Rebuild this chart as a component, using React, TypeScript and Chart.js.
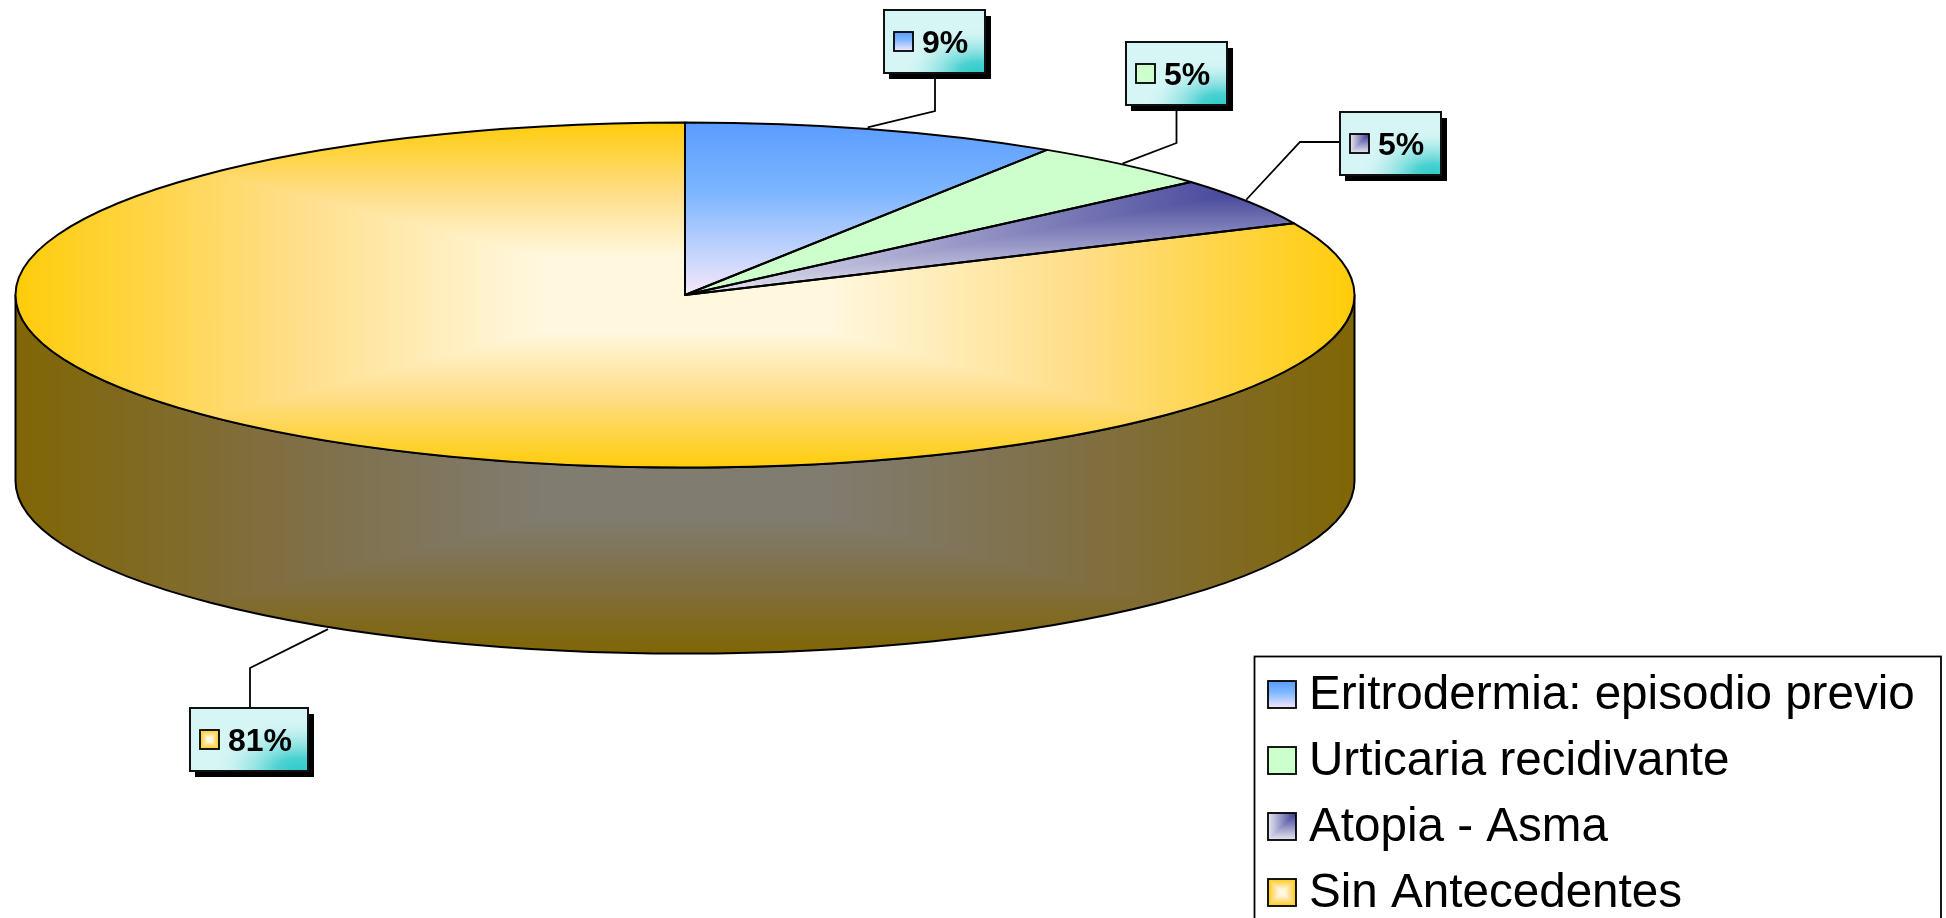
import React, { useEffect, useRef } from "react";
import { Chart, registerables } from "chart.js";

Chart.register(...registerables);

const categories = ["Eritrodermia: episodio previo", "Urticaria recidivante", "Atopia - Asma", "Sin Antecedentes"];
const counts = [2, 1, 1, 18];
const percentLabels = ["9%", "5%", "5%", "81%"];

const W = 1946, H = 918;
const CX = 685, CY = 295, RX = 669.5, RY = 172.5, DEPTH = 186;
const FONT = '"Liberation Sans", Arial, sans-serif';

type RGB = [number, number, number];
const lerp = (a: RGB, b: RGB, t: number): RGB => [a[0] + (b[0] - a[0]) * t, a[1] + (b[1] - a[1]) * t, a[2] + (b[2] - a[2]) * t];

const goldAt = (u: number, v: number): RGB => {
  const t = Math.max(Math.abs(u - 0.5), Math.abs(v - 0.5)) * 2;
  if (t < 0.22) return [255, 247, 222];
  if (t < 0.6) return lerp([255, 247, 222], [255, 221, 133], (t - 0.22) / 0.38);
  return lerp([255, 221, 133], [255, 204, 10], (t - 0.6) / 0.4);
};

const shaders: Record<string, (u: number, v: number) => RGB> = {
  blue: (_u, v) =>
    v < 0.41 ? lerp([90, 156, 255], [125, 182, 255], v / 0.41) : lerp([125, 182, 255], [245, 232, 250], (v - 0.41) / 0.59),
  green: () => [204, 255, 204],
  purple: (u, v) => {
    const d = Math.max(1 - u, v);
    return lerp([68, 68, 154], [232, 232, 242], Math.min(1, Math.max(0, (d - 0.08) / 0.92)));
  },
  yellow: goldAt,
  wall: (u, v) => {
    const c = goldAt(u, v);
    return [c[0] / 2, c[1] / 2, c[2] / 2];
  },
};
const sliceShaders = ["blue", "green", "purple", "yellow"];

function shade(name: string, w: number, h: number): HTMLCanvasElement {
  const c = document.createElement("canvas");
  c.width = Math.ceil(w);
  c.height = Math.ceil(h);
  const x = c.getContext("2d")!;
  const img = x.createImageData(c.width, c.height);
  const fn = shaders[name];
  for (let j = 0; j < c.height; j++) {
    for (let i = 0; i < c.width; i++) {
      const [r, g, b] = fn((i + 0.5) / c.width, (j + 0.5) / c.height);
      const k = (j * c.width + i) * 4;
      img.data[k] = r;
      img.data[k + 1] = g;
      img.data[k + 2] = b;
      img.data[k + 3] = 255;
    }
  }
  x.putImageData(img, 0, 0);
  return c;
}

// slice bounding boxes in page pixels, used only for the fill gradients
const fillBoxes: Record<string, { x: number; y: number; w: number; h: number }> = {
  blue: { x: CX, y: CY - RY, w: RX * 0.55, h: RY },
  green: { x: CX, y: CY - RY, w: RX * 0.76, h: RY },
  purple: { x: CX, y: CY - RY * 0.65, w: RX * 0.91, h: RY * 0.65 },
  yellow: { x: CX - RX, y: CY - RY, w: RX * 2, h: RY * 2 },
};

// label boxes, the elbow of each leader, and a small nudge of its end on the pie
const labelLayout = [
  { box: [884, 10, 101, 63], leader: [[935, 73], [935, 111]], nudge: [-6, -2] },
  { box: [1126, 42, 101, 63], leader: [[1176.5, 105], [1176.5, 143]], nudge: [-1, -1] },
  { box: [1340, 112, 101, 63], leader: [[1340, 142], [1300, 142]], nudge: [-2, -2] },
  { box: [190, 708, 118, 63], leader: [[250, 708], [250, 668]], nudge: [5, 3] },
];

function drawBox(ctx: CanvasRenderingContext2D, x: number, y: number, w: number, h: number) {
  ctx.fillStyle = "#000";
  ctx.fillRect(x + 5, y + 6, w + 1, h);
  ctx.fillStyle = "#D6F5F5";
  ctx.fillRect(x, y, w, h);
  ctx.save();
  ctx.beginPath();
  ctx.rect(x, y, w, h);
  ctx.clip();
  ctx.translate(x + w * 0.92, y + h);
  ctx.scale(1, 0.62);
  const g = ctx.createRadialGradient(0, 0, 0, 0, 0, w * 0.72);
  g.addColorStop(0, "rgba(45,203,203,1)");
  g.addColorStop(0.25, "rgba(60,205,205,0.9)");
  g.addColorStop(0.7, "rgba(120,220,220,0.3)");
  g.addColorStop(1, "rgba(214,245,245,0)");
  ctx.fillStyle = g;
  ctx.fillRect(-w * 2, -h * 3, w * 4, h * 4);
  ctx.restore();
  ctx.strokeStyle = "#111";
  ctx.lineWidth = 2;
  ctx.strokeRect(x, y, w, h);
}

function drawSwatch(ctx: CanvasRenderingContext2D, name: string, x: number, y: number, w: number, h: number) {
  ctx.drawImage(shade(name, w, h), x, y);
  ctx.strokeStyle = "#000";
  ctx.lineWidth = 1.8;
  ctx.strokeRect(x, y, w, h);
}

export default function App() {
  const ref = useRef<HTMLCanvasElement>(null);
  useEffect(() => {
    const canvas = ref.current!;
    const base = canvas.getContext("2d")!;
    const patterns = sliceShaders.map((n) => {
      const b = fillBoxes[n];
      return { pattern: base.createPattern(shade(n, b.w, b.h), "no-repeat")!, box: b };
    });
    const wallImg = shade("wall", RX * 2, RY * 2);

    const pie3d = {
      id: "pie3d",
      beforeDatasetsDraw(chart: any) {
        const ctx = chart.ctx as CanvasRenderingContext2D;
        ctx.save();
        ctx.beginPath();
        ctx.moveTo(CX - RX, CY);
        ctx.lineTo(CX - RX, CY + DEPTH);
        ctx.ellipse(CX, CY + DEPTH, RX, RY, 0, Math.PI, 0, true);
        ctx.lineTo(CX + RX, CY);
        ctx.ellipse(CX, CY, RX, RY, 0, 0, Math.PI, false);
        ctx.closePath();
        ctx.save();
        ctx.clip();
        ctx.drawImage(wallImg, CX - RX, CY - RY + DEPTH);
        ctx.restore();
        ctx.strokeStyle = "#000";
        ctx.lineWidth = 2;
        ctx.stroke();
        ctx.restore();
      },
      beforeDatasetDraw(chart: any) {
        const ctx = chart.ctx as CanvasRenderingContext2D;
        const arc = chart.getDatasetMeta(0).data[0];
        const m = new DOMMatrix().translate(arc.x, arc.y).scale(1, RX / RY).translate(-CX, -CY);
        patterns.forEach((p) => p.pattern.setTransform(m.translate(p.box.x, p.box.y)));
        ctx.save();
        ctx.translate(CX, CY);
        ctx.scale(1, RY / RX);
        ctx.translate(-arc.x, -arc.y);
      },
      afterDatasetDraw(chart: any) {
        const ctx = chart.ctx as CanvasRenderingContext2D;
        ctx.restore();
        ctx.save();
        ctx.strokeStyle = "#000";
        ctx.lineWidth = 2;
        ctx.lineJoin = "round";
        chart.getDatasetMeta(0).data.forEach((arc: any) => {
          ctx.beginPath();
          ctx.moveTo(CX, CY);
          ctx.ellipse(CX, CY, RX, RY, 0, arc.startAngle, arc.endAngle, false);
          ctx.closePath();
          ctx.stroke();
        });
        ctx.restore();
      },
      afterDraw(chart: any) {
        const ctx = chart.ctx as CanvasRenderingContext2D;
        ctx.save();
        const arcs = chart.getDatasetMeta(0).data;
        // data labels with leader lines
        arcs.forEach((arc: any, i: number) => {
          const mid = (arc.startAngle + arc.endAngle) / 2;
          const { box, leader, nudge } = labelLayout[i];
          const px = CX + RX * Math.cos(mid) + nudge[0];
          let py = CY + RY * Math.sin(mid) + nudge[1];
          if (Math.sin(mid) > 0) py += DEPTH;
          ctx.strokeStyle = "#000";
          ctx.lineWidth = 1.8;
          ctx.beginPath();
          ctx.moveTo(leader[0][0], leader[0][1]);
          ctx.lineTo(leader[1][0], leader[1][1]);
          ctx.lineTo(px, py);
          ctx.stroke();
          const [x, y, w, h] = box;
          drawBox(ctx, x, y, w, h);
          drawSwatch(ctx, sliceShaders[i], x + 10, y + 22, 19, 19);
          ctx.fillStyle = "#000";
          ctx.font = `bold 32px ${FONT}`;
          ctx.textAlign = "left";
          ctx.textBaseline = "alphabetic";
          ctx.fillText(percentLabels[i], x + 38, y + 43);
        });
        // legend
        ctx.fillStyle = "#fff";
        ctx.fillRect(1254.5, 656.5, 686.5, 280);
        ctx.strokeStyle = "#000";
        ctx.lineWidth = 1.8;
        ctx.strokeRect(1254.5, 656.5, 686.5, 280);
        ctx.font = `47.6px ${FONT}`;
        categories.forEach((label, i) => {
          const base = 708 + i * 66;
          drawSwatch(ctx, sliceShaders[i], 1268, base - 27, 28, 27);
          ctx.fillStyle = "#000";
          ctx.fillText(label, 1309, base + 1);
        });
        ctx.restore();
      },
    };

    const chart = new Chart(canvas, {
      type: "pie",
      data: {
        labels: categories,
        datasets: [
          {
            data: counts,
            backgroundColor: patterns.map((p) => p.pattern),
            borderWidth: 0,
            radius: RX,
            clip: false,
          } as any,
        ],
      },
      options: {
        responsive: false,
        animation: false,
        devicePixelRatio: 1,
        layout: { padding: 0 },
        plugins: { legend: { display: false }, tooltip: { enabled: false }, title: { display: false } },
      },
      plugins: [pie3d],
    } as any);
    return () => chart.destroy();
  }, []);
  return <canvas ref={ref} width={W} height={H} style={{ position: "fixed", left: 0, top: 0, display: "block", width: W, height: H }} />;
}
